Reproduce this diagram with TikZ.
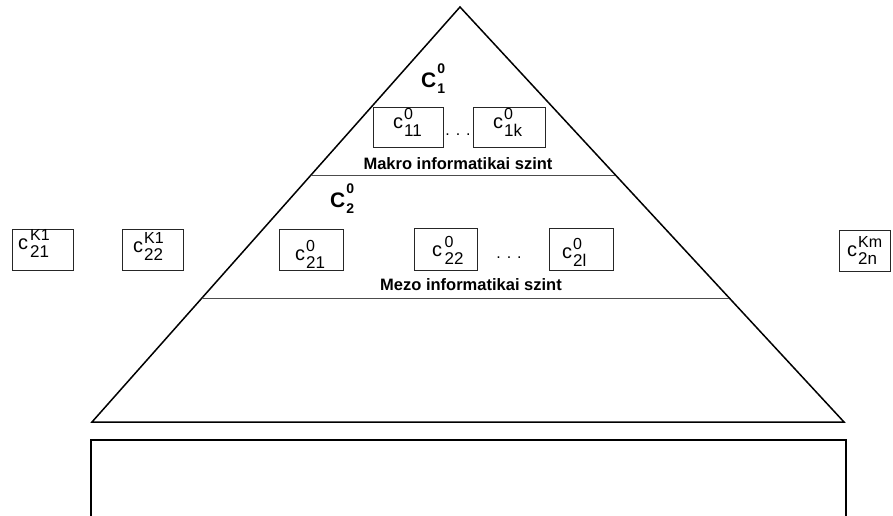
\documentclass[tikz,border=0pt]{standalone}
\usepackage{fontspec}
\setmainfont{Liberation Sans}
% variable with stacked superscript / subscript
\newcommand\cvar[3][1pt]{{\fontsize{20}{20}\selectfont c}\kern#1%
  \rlap{\raisebox{8.5pt}{\fontsize{16}{16}\selectfont #2}}%
  \raisebox{-8pt}{\fontsize{17}{17}\selectfont #3}}
\newcommand\cbig[2]{{\bfseries\fontsize{21}{21}\selectfont C}\kern1pt%
  \rlap{\raisebox{14pt}{\bfseries\fontsize{14}{14}\selectfont #1}}%
  \raisebox{-6pt}{\bfseries\fontsize{14}{14}\selectfont #2}}
\tikzset{
  edge/.style={line width=1.5pt, line join=miter},
  level/.style={line width=0.9pt, draw=black!70},
  cbox/.style={draw=black!85, line width=0.8pt},
  lbl/.style={inner sep=0pt, anchor=base west},
  caption/.style={inner sep=0pt, anchor=base, font=\bfseries\fontsize{16.5}{16.5}\selectfont},
  dots/.style={inner sep=0pt, anchor=base, font=\fontsize{16}{16}\selectfont}
}
\begin{document}
\begin{tikzpicture}[x=1pt, y=-1pt]
\useasboundingbox (0,0) rectangle (893,515);
% pyramid outline
\coordinate (apex) at (460,7);
\coordinate (bl) at (92,422);
\coordinate (br) at (844,422);
\draw[edge] (bl) -- (apex) -- (br) -- cycle;
% level separators
\coordinate (m1) at (311,175);
\coordinate (m2) at (615,175);
\coordinate (n1) at (203,298);
\coordinate (n2) at (729,298);
\draw[level] (m1) -- (m2);
\draw[level] (n1) -- (n2);
% base block
\coordinate (r1) at (91,516);
\coordinate (r2) at (91,440);
\coordinate (r3) at (846,440);
\coordinate (r4) at (846,516);
\draw[edge] (r1) -- (r2) -- (r3) -- (r4);
% level titles
\node[lbl] (C1) at (421,87) {\cbig{0}{1}};
\node[lbl] (C2) at (330,207) {\cbig{0}{2}};
\node[caption] (makro) at (458,169) {Makro informatikai szint};
\node[caption] (mezo) at (471,290) {Mezo informatikai szint};
% component boxes
\draw[cbox] (373,107) rectangle (443,147);
\draw[cbox] (473,107) rectangle (545,147);
\draw[cbox] (279,229) rectangle (343,270);
\draw[cbox] (414,228) rectangle (477,270);
\draw[cbox] (549,228) rectangle (613,270);
\draw[cbox] (12,229) rectangle (73,270);
\draw[cbox] (122,229) rectangle (183,270);
\draw[cbox] (839,230) rectangle (890,271);
% component labels
\node[lbl] (c11) at (393,128) {\cvar{0}{11}};
\node[lbl] (c1k) at (493,128) {\cvar{0}{1k}};
\node[lbl] (c21) at (295,260) {\cvar{0}{21}};
\node[lbl] (c22) at (432,256) {\cvar[2.5pt]{0}{22}};
\node[lbl] (c2l) at (562,258) {\cvar{0}{2l}};
\node[lbl] (k21) at (18,249) {\cvar[2pt]{K1}{21}};
\node[lbl] (k22) at (133,252) {\cvar{K1}{22}};
\node[lbl] (k2n) at (847,256) {\cvar{Km}{2n}};
% ellipses
\node[dots] (d1) at (458,135) {. . .};
\node[dots] (d2) at (509,258) {. . .};
\end{tikzpicture}
\end{document}
